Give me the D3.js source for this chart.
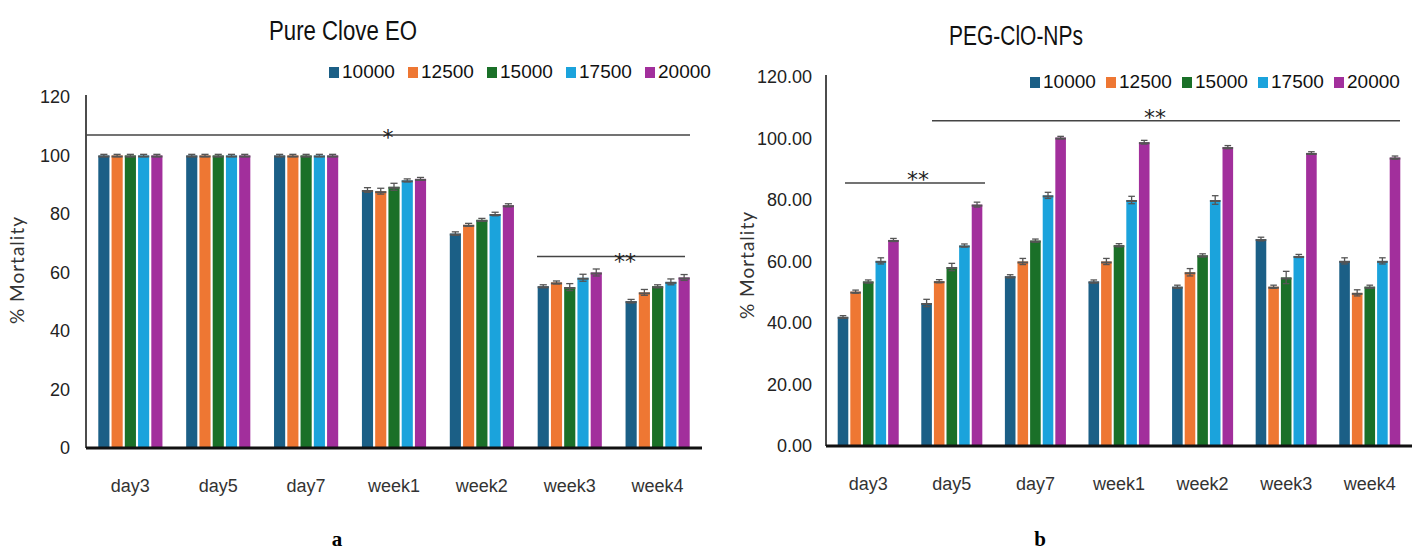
<!DOCTYPE html>
<html>
<head>
<meta charset="utf-8">
<script src="https://cdn.jsdelivr.net/npm/d3@7"></script>
<style>
  body { margin: 0; background: #fff; }
  svg { display: block; }
  .narrow { font-family: "Liberation Sans Narrow", "Arial Narrow", "Liberation Sans", sans-serif; }
</style>
</head>
<body>
<svg id="chart" width="1416" height="555"></svg>
<script>
const periods = ['day3', 'day5', 'day7', 'week1', 'week2', 'week3', 'week4']
const doses = ['10000', '12500', '15000', '17500', '20000']
const colors = ['#1b5f86', '#ee7733', '#1a7028', '#1ba3dc', '#a22f9c']

// mortality per dose, one value per period
const pureValues = [
  [100, 100, 100, 88.2, 73.3, 55.3, 50.2],
  [100, 100, 100, 87.8, 76.3, 56.6, 53.2],
  [100, 100, 100, 89.3, 78.0, 55.0, 55.3],
  [100, 100, 100, 91.5, 80.0, 58.2, 56.8],
  [100, 100, 100, 92.0, 83.0, 60.0, 58.3]
]
const pureErrors = [
  [0.4, 0.4, 0.4, 0.8, 0.6, 0.5, 0.6],
  [0.4, 0.4, 0.4, 1.0, 0.5, 0.5, 1.0],
  [0.4, 0.4, 0.4, 1.2, 0.5, 1.2, 0.5],
  [0.4, 0.4, 0.4, 0.5, 0.6, 1.2, 1.0],
  [0.4, 0.4, 0.4, 0.5, 0.5, 1.2, 1.0]
]
const pegValues = [
  [42.0, 46.5, 55.2, 53.5, 51.8, 67.3, 60.2],
  [50.2, 53.6, 60.0, 60.0, 56.5, 51.8, 49.8],
  [53.5, 58.2, 66.8, 65.3, 62.0, 54.8, 51.8],
  [60.2, 65.2, 81.5, 80.0, 80.0, 61.8, 60.2],
  [67.0, 78.5, 100.3, 98.8, 97.2, 95.3, 93.8]
]
const pegErrors = [
  [0.4, 1.2, 0.5, 0.5, 0.5, 0.6, 1.0],
  [0.5, 0.5, 1.0, 1.0, 1.2, 0.5, 1.0],
  [0.5, 1.2, 0.5, 0.5, 0.5, 2.0, 0.5],
  [1.0, 0.5, 1.0, 1.2, 1.4, 0.5, 1.0],
  [0.5, 0.8, 0.4, 0.6, 0.5, 0.4, 0.5]
]

const svg = d3.select('#chart')

function drawPanel(cfg) {
  const g = svg.append('g')

  const x0 = d3.scaleBand().domain(periods).range([cfg.left, cfg.right]).paddingInner(0.27).paddingOuter(0.14)
  const x1 = d3.scaleBand().domain(doses).range([0, x0.bandwidth()]).paddingInner(0.16)
  const y = d3.scaleLinear().domain([0, 120]).range([cfg.bottom, cfg.top])

  // y tick labels
  const yAxis = d3.axisLeft(y).tickValues(d3.range(0, 121, 20)).tickSize(0).tickPadding(cfg.tickPad)
    .tickFormat(cfg.fmt)
  g.append('g').attr('transform', `translate(${cfg.left},0)`).call(yAxis)
    .call(a => a.select('.domain').remove())
    .selectAll('text').attr('class', 'narrow').style('font-size', '18px').attr('fill', '#222')

  g.append('line').attr('x1', cfg.left).attr('x2', cfg.left).attr('y1', y(120) - 2).attr('y2', cfg.bottom)
    .attr('stroke', '#111').attr('stroke-width', 1.5)

  // bars
  const rows = []
  doses.forEach((dose, i) => {
    periods.forEach((p, j) => {
      rows.push({ dose: dose, i: i, period: p, v: cfg.values[i][j], e: cfg.errors[i][j] })
    })
  })

  g.selectAll('rect.bar').data(rows).enter().append('rect')
    .attr('class', 'bar')
    .attr('x', d => x0(d.period) + x1(d.dose))
    .attr('width', x1.bandwidth())
    .attr('y', d => y(d.v))
    .attr('height', d => cfg.bottom - y(d.v))
    .attr('fill', d => colors[d.i])

  // error bars
  const eb = g.selectAll('g.err').data(rows).enter().append('g').attr('class', 'err')
    .attr('stroke', '#555').attr('stroke-width', 1.3)
  eb.append('rect')
    .attr('x', d => x0(d.period) + x1(d.dose))
    .attr('width', x1.bandwidth())
    .attr('y', d => y(d.v))
    .attr('height', 2)
    .attr('fill', '#555').attr('stroke', 'none')
  eb.append('line')
    .attr('x1', d => x0(d.period) + x1(d.dose) + x1.bandwidth() / 2)
    .attr('x2', d => x0(d.period) + x1(d.dose) + x1.bandwidth() / 2)
    .attr('y1', d => y(d.v + d.e)).attr('y2', d => y(d.v - d.e))
  eb.append('line')
    .attr('x1', d => x0(d.period) + x1(d.dose) + 2)
    .attr('x2', d => x0(d.period) + x1(d.dose) + x1.bandwidth() - 2)
    .attr('y1', d => y(d.v + d.e)).attr('y2', d => y(d.v + d.e))
  eb.append('line')
    .attr('x1', d => x0(d.period) + x1(d.dose) + 2)
    .attr('x2', d => x0(d.period) + x1(d.dose) + x1.bandwidth() - 2)
    .attr('y1', d => y(d.v - d.e)).attr('y2', d => y(d.v - d.e))

  // x axis
  g.append('line').attr('x1', cfg.left).attr('x2', cfg.right).attr('y1', cfg.bottom).attr('y2', cfg.bottom)
    .attr('stroke', '#111').attr('stroke-width', 3)
  g.selectAll('text.xlab').data(periods).enter().append('text')
    .attr('class', 'narrow')
    .attr('x', d => x0(d) + x0.bandwidth() / 2)
    .attr('y', cfg.bottom + 44)
    .attr('text-anchor', 'middle')
    .style('font-size', '18px').attr('fill', '#333')
    .text(d => d)

  // y label
  g.append('text')
    .attr('transform', `translate(${cfg.ylabX},${cfg.ylabY}) rotate(-90)`)
    .attr('text-anchor', 'middle')
    .style('font-family', 'Lato, "DejaVu Sans", sans-serif')
    .style('font-size', '19px').style('letter-spacing', '1px').attr('fill', '#333')
    .text('% Mortality')

  // title
  g.append('text').attr('class', 'narrow')
    .attr('x', cfg.titleX).attr('y', cfg.titleY)
    .attr('text-anchor', 'middle').style('font-size', '27px').attr('fill', '#111')
    .attr('textLength', cfg.titleLen).attr('lengthAdjust', 'spacingAndGlyphs')
    .text(cfg.title)

  // legend
  const lg = g.selectAll('g.leg').data(doses).enter().append('g')
    .attr('transform', (d, i) => `translate(${cfg.legX + i * cfg.legStep},${cfg.legY})`)
  lg.append('rect').attr('x', 0).attr('y', -12).attr('width', 10).attr('height', 11)
    .attr('fill', (d, i) => colors[i])
  lg.append('text').attr('class', 'narrow').attr('x', 13).attr('y', -1)
    .style('font-size', '19px').attr('fill', '#111').text(d => d)

  // significance brackets
  cfg.sig.forEach(s => {
    g.append('line').attr('x1', s.x1).attr('x2', s.x2).attr('y1', y(s.v)).attr('y2', y(s.v))
      .attr('stroke', '#444').attr('stroke-width', 1.5)
    g.append('text')
      .attr('x', s.tx).attr('y', y(s.v) + s.dy)
      .attr('text-anchor', 'middle')
      .style('font-family', '"DejaVu Sans", sans-serif').style('font-size', '22px').attr('fill', '#222')
      .text(s.label)
  })

  // panel letter
  g.append('text')
    .attr('x', cfg.letterX).attr('y', 546)
    .attr('text-anchor', 'middle')
    .style('font-family', '"Liberation Serif", "Times New Roman", serif')
    .style('font-weight', 'bold').style('font-size', '21px')
    .text(cfg.letter)
}

drawPanel({
  left: 86, right: 702, top: 97, bottom: 448,
  values: pureValues, errors: pureErrors,
  fmt: d3.format('d'), tickPad: 16,
  ylabX: 24, ylabY: 270,
  title: 'Pure Clove EO', titleX: 343, titleY: 40, titleLen: 148,
  legX: 329, legStep: 79, legY: 79,
  sig: [
    { x1: 86, x2: 690, v: 107, tx: 388, dy: 10, label: '*' },
    { x1: 537, x2: 685, v: 65.5, tx: 625, dy: 13, label: '**' }
  ],
  letter: 'a', letterX: 337
})

drawPanel({
  left: 826, right: 1412, top: 77, bottom: 446,
  values: pegValues, errors: pegErrors,
  fmt: d3.format('.2f'), tickPad: 14,
  ylabX: 754, ylabY: 265,
  title: 'PEG-ClO-NPs', titleX: 1016, titleY: 45, titleLen: 134,
  legX: 1030, legStep: 76, legY: 89,
  sig: [
    { x1: 932, x2: 1400, v: 105.8, tx: 1155, dy: 4, label: '**' },
    { x1: 845, x2: 985, v: 85.5, tx: 918, dy: 4, label: '**' }
  ],
  letter: 'b', letterX: 1040
})
</script>
</body>
</html>
